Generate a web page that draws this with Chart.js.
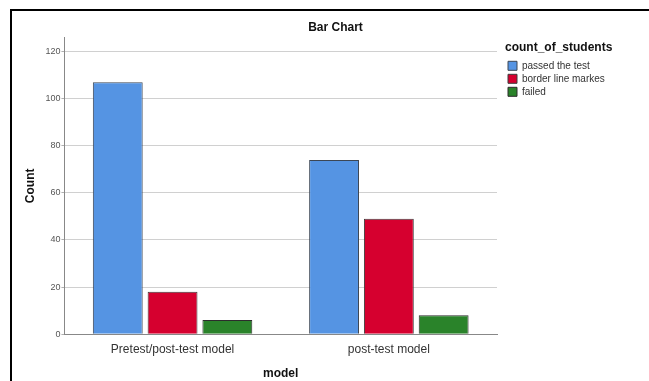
<!DOCTYPE html>
<html>
<head>
<meta charset="utf-8">
<script src="https://cdn.jsdelivr.net/npm/chart.js@4"></script>
<style>
  body { margin: 0; background: #fff; overflow: hidden; }
  #frame {
    position: absolute; left: 10px; top: 9px;
    width: 660px; height: 400px;
    border-left: 2px solid #000; border-top: 2px solid #000;
  }
  #wrap { position: absolute; left: 12px; top: 11px; }
</style>
</head>
<body>
<div id="frame"></div>
<div id="wrap"><canvas id="barChart" width="636" height="372"></canvas></div>
<script>
// Bar Chart: count_of_students per model
const models = ['Pretest/post-test model', 'post-test model'];
const passed = [107, 74];
const borderLine = [18, 49];
const failed = [6, 8];
const yTicks = [0, 20, 40, 60, 80, 100, 120];

const font = "'Liberation Sans', Arial, sans-serif";
const legendWidth = 143;

// keep the legend column wide, like the SPSS output, so the title stays centred on the page
const wideLegend = {
  id: 'wideLegend',
  beforeLayout(chart) {
    const legend = chart.legend;
    if (!legend || legend._wide) return;
    const fit = legend.fit;
    legend.fit = function () { fit.call(this); this.width = legendWidth; };
    legend._wide = true;
  }
};

new Chart(document.getElementById('barChart'), {
  type: 'bar',
  data: {
    labels: models,
    datasets: [
      { label: 'passed the test', data: passed, backgroundColor: '#5594e3', borderColor: '#3c4654', borderWidth: 1 },
      { label: 'border line markes', data: borderLine, backgroundColor: '#d6002f', borderColor: '#3c3c3c', borderWidth: 1 },
      { label: 'failed', data: failed, backgroundColor: '#2a832a', borderColor: '#2c2c2c', borderWidth: 1 }
    ]
  },
  plugins: [wideLegend],
  options: {
    responsive: false,
    animation: false,
    categoryPercentage: 0.76,
    barPercentage: 0.91,
    layout: { padding: { left: 11, right: 0, bottom: 2 } },
    plugins: {
      title: {
        display: true, text: 'Bar Chart', color: '#111',
        font: { family: font, size: 12, weight: 'bold' },
        padding: { top: 9, bottom: 3 }
      },
      legend: {
        position: 'right', align: 'start', fullSize: false,
        title: {
          display: true, text: 'count_of_students', color: '#111', position: 'start',
          font: { family: font, size: 12, weight: 'bold' },
          padding: { top: 4, bottom: 2 }
        },
        labels: {
          boxWidth: 9, boxHeight: 9, padding: 3, color: '#333',
          font: { family: font, size: 10 }
        }
      },
      tooltip: { enabled: false }
    },
    scales: {
      x: {
        grid: { display: false },
        border: { color: '#888' },
        ticks: { color: '#333', font: { family: font, size: 12 }, padding: 0 },
        title: {
          display: true, text: 'model', color: '#111',
          font: { family: font, size: 12, weight: 'bold' },
          padding: { top: 10, bottom: 0 }
        }
      },
      y: {
        min: 0, max: 126,
        afterBuildTicks: axis => { axis.ticks = yTicks.map(v => ({ value: v })); },
        grid: { color: '#d0d0d0', tickColor: '#b0b0b0', tickLength: 3 },
        border: { color: '#888' },
        ticks: { color: '#555', font: { family: font, size: 9 }, padding: 1 },
        title: {
          display: true, text: 'Count', color: '#111',
          font: { family: font, size: 12, weight: 'bold' },
          padding: { top: 0, bottom: 7 }
        }
      },
      // empty axis, only a small gap between plot and legend
      gap: {
        type: 'linear', position: 'right',
        grid: { display: false }, border: { display: false }, ticks: { display: false },
        afterFit: scale => { scale.width = 8; }
      }
    }
  }
});
</script>
</body>
</html>
